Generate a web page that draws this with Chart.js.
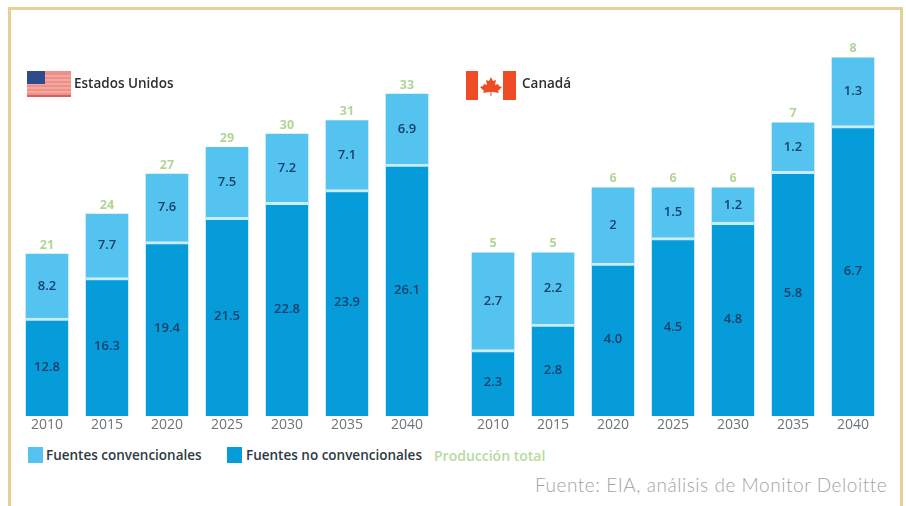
<!DOCTYPE html>
<html lang="es">
<head>
<meta charset="utf-8">
<title>Producción total</title>
<script src="https://cdn.jsdelivr.net/npm/chart.js@4"></script>
<style>
  html, body { margin: 0; padding: 0; background: #fff; }
  body { position: relative; width: 906px; height: 506px; overflow: hidden; font-family: "Open Sans", sans-serif; }
  canvas { position: absolute; top: 0; }
  #marco { position: absolute; left: 8px; top: 7px; width: 889px; height: 510px; border: 3px solid #e3d196; }
  .pais { position: absolute; top: 74px; font-size: 13.5px; font-weight: 600; color: #2b2f33; }
  .bandera { position: absolute; top: 71px; }
  .leyenda { position: absolute; top: 446px; font-size: 13.5px; font-weight: 600; color: #2f3a42; white-space: nowrap; }
  .caja { position: absolute; top: 447px; width: 15px; height: 16px; }
  #fuente { position: absolute; left: 535px; top: 473px; font-family: Lato, sans-serif; font-weight: 300; font-size: 19px; letter-spacing: 0.55px; color: #a3a3a3; white-space: nowrap; }
</style>
</head>
<body>
<div id="marco"></div>
<canvas id="graficoEEUU" width="420" height="440" style="left:17px"></canvas>
<canvas id="graficoCanada" width="420" height="440" style="left:463px"></canvas>

<svg class="bandera" style="left:27px" width="44" height="26" viewBox="0 0 44 26">
  <rect width="44" height="26" fill="#ee9088"/>
  <rect y="4" width="44" height="2" fill="#f1a9a1"/>
  <rect y="8" width="44" height="2" fill="#f1a9a1"/>
  <rect y="12" width="44" height="2" fill="#f1a9a1"/>
  <rect y="16" width="44" height="2" fill="#f1a9a1"/>
  <rect y="20" width="44" height="2" fill="#f1a9a1"/>
  <rect y="24" width="44" height="2" fill="#d9605a"/>
  <rect width="18" height="13" fill="#2f4b8c"/>
</svg>
<div class="pais" style="left:74px">Estados Unidos</div>

<svg class="bandera" style="left:466px" width="50" height="29" viewBox="0 0 50 29">
  <rect width="12" height="29" fill="#ef4b24"/>
  <rect x="37" width="13" height="29" fill="#ef4b24"/>
  <path d="M25 6 l2 4 3-1 -1 5 3-1 1 2 3 1 -4 4 1 2 -6-1 -1.500 0 0 4 -1 0 0-4 -1.500 0 -6 1 1-2 -4-4 3-1 1-2 3 1 -1-5 3 1z" fill="#ef4b24"/>
</svg>
<div class="pais" style="left:522px">Canadá</div>

<div class="caja" style="left:28px;background:#55c3f0"></div>
<div class="leyenda" style="left:46px">Fuentes convencionales</div>
<div class="caja" style="left:227px;background:#069cd9"></div>
<div class="leyenda" style="left:246px">Fuentes no convencionales</div>
<div class="leyenda" style="left:434px;color:#b5dba0;font-size:14px">Producción total</div>
<div id="fuente">Fuente: EIA, análisis de Monitor Deloitte</div>

<script>
// Datos
const anios = ["2010", "2015", "2020", "2025", "2030", "2035", "2040"];

const eeuuConvencional = ["8.2", "7.7", "7.6", "7.5", "7.2", "7.1", "6.9"];
const eeuuNoConvencional = [12.8, 16.3, 19.4, 21.5, 22.8, 23.9, 26.1];
const eeuuTotal = [21, 24, 27, 29, 30, 31, 33];

const canadaConvencional = ["2.7", "2.2", "2", "1.5", "1.2", "1.2", "1.3"];
const canadaNoConvencional = [2.3, 2.8, 4.0, 4.5, 4.8, 5.8, 6.7];
const canadaTotal = [5, 5, 6, 6, 6, 7, 8];

// Escribe los valores encima de las barras
const etiquetas = {
    id: 'etiquetas',
    afterDatasetsDraw(chart, args, opts) {
        const ctx = chart.ctx;
        const oscuras = chart.getDatasetMeta(0).data;
        const claras = chart.getDatasetMeta(1).data;
        const base = chart.chartArea.bottom;
        ctx.save();
        ctx.textAlign = 'center';
        ctx.textBaseline = 'middle';
        anios.forEach((a, i) => {
            const xBarra = oscuras[i].x;
            ctx.font = '600 13px "Open Sans"';
            ctx.fillStyle = '#17406b';
            ctx.fillText(opts.noConvencional[i].toFixed(1), xBarra, (oscuras[i].y + base) / 2);
            ctx.fillText(opts.convencional[i], xBarra, (claras[i].y + oscuras[i].y) / 2);
            ctx.font = '700 12.5px "Open Sans"';
            ctx.fillStyle = '#b1d596';
            ctx.fillText(opts.total[i], xBarra, claras[i].y - 9);
        });
        ctx.restore();
    }
};

// Las barras del original no están a una sola escala: el total y la parte
// no convencional se leen cada uno en su propio eje, para conservar sus alturas
function crearGrafico(id, convencional, noConvencional, total, ejeTotal, ejeNoConv) {
    const ctx = document.getElementById(id).getContext('2d');
    return new Chart(ctx, {
        type: 'bar',
        data: {
            labels: anios,
            datasets: [{
                label: 'Fuentes no convencionales',
                data: noConvencional,
                yAxisID: 'yNoConv',
                backgroundColor: '#069cd9',
                borderColor: '#c9eefb',
                borderWidth: { top: 3, left: 0, right: 0, bottom: 0 },
                borderSkipped: false,
                grouped: false,
                barThickness: 42
            }, {
                label: 'Producción total',
                data: total,
                yAxisID: 'yTotal',
                backgroundColor: '#55c3f0',
                grouped: false,
                barThickness: 42
            }]
        },
        options: {
            responsive: false,
            animation: false,
            layout: { padding: 0 },
            plugins: {
                legend: { display: false },
                tooltip: { enabled: false },
                etiquetas: { convencional, noConvencional, total }
            },
            scales: {
                x: {
                    grid: { display: false, drawTicks: false },
                    border: { display: false },
                    ticks: { color: '#6d7479', font: { family: 'Open Sans', size: 14 }, padding: 1, maxRotation: 0 },
                    afterFit(escala) { escala.height = 24; }
                },
                yTotal: { display: false, min: ejeTotal[0], max: ejeTotal[1] },
                yNoConv: { display: false, min: ejeNoConv[0], max: ejeNoConv[1] }
            }
        },
        plugins: [etiquetas]
    });
}

crearGrafico('graficoEEUU', eeuuConvencional, eeuuNoConvencional, eeuuTotal, [8.85, 40.05], [4.34, 40.26]);
crearGrafico('graficoCanada', canadaConvencional, canadaNoConvencional, canadaTotal, [2.49, 8.89], [0.995, 9.168]);
</script>
</body>
</html>
